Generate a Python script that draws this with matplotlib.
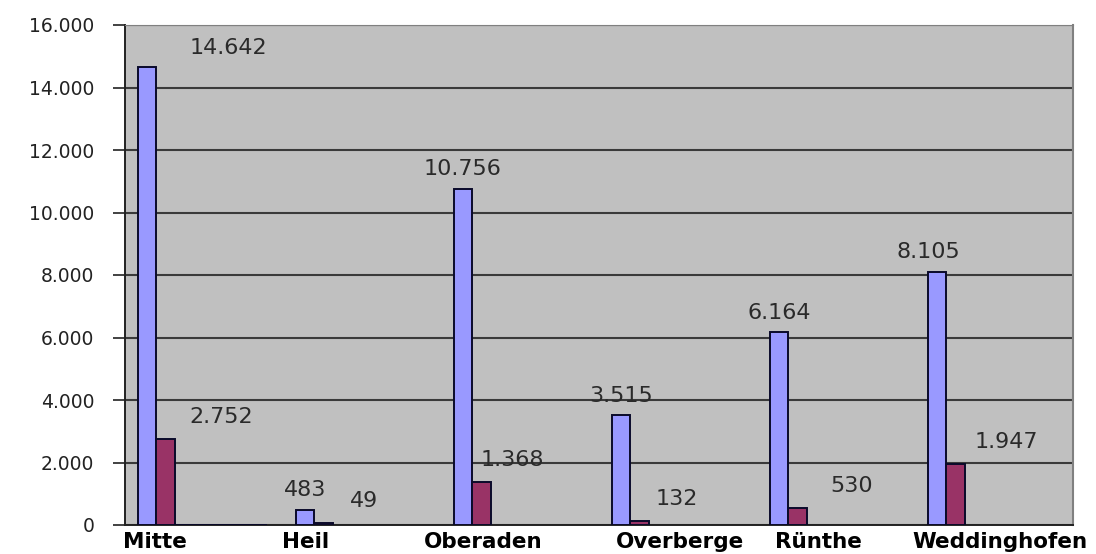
import numpy as np
import matplotlib
matplotlib.use("Agg")
import matplotlib.pyplot as plt
from matplotlib.ticker import FuncFormatter

# Daten
stadtteile = ["Mitte", "Heil", "Oberaden", "Overberge", "Rünthe", "Weddinghofen"]
reihe_1 = [14642, 483, 10756, 3515, 6164, 8105]
reihe_2 = [2752, 49, 1368, 132, 530, 1947]
weitere_mitte = [0, 0, 0, 0, 0]   # leere Reihen, nur bei Mitte als Strich sichtbar

# Layout (Beschriftungen stehen wie im Original etwas versetzt)
label_x = [0.19, 1.14, 2.27, 3.51, 4.39, 5.54]
dx_1 = [59, 0, 0, 0, 0, -6]
dx_2 = [40, 29, 22, 27, 39, 37]

fmt = lambda v: f"{v:,.0f}".replace(",", ".")

fig = plt.figure(figsize=(10.96, 5.54), dpi=100)
ax = fig.add_axes([125 / 1096, 1 - 525 / 554, 948 / 1096, 500 / 554])
ax.set_facecolor("#C0C0C0")

x = np.arange(len(stadtteile))
b = 0.117
off = 0.08
kante = dict(edgecolor="#0a0a2a", linewidth=1.4)

ax.bar(x + off, reihe_1, width=b, align="edge", color="#9999FF", zorder=3, **kante)
ax.bar(x + off + b, reihe_2, width=b, align="edge", color="#993366", zorder=3, **kante)
for k, v in enumerate(weitere_mitte):
    ax.bar(off + (k + 2) * b, v, width=b, align="edge", color="#993366", zorder=3, **kante)

for i in range(len(stadtteile)):
    ax.annotate(fmt(reihe_1[i]), (x[i] + off + b / 2, reihe_1[i]),
                xytext=(dx_1[i], 14), textcoords="offset points",
                ha="center", va="center", fontsize=16, color="#2a2a2a",
                family="DejaVu Sans", zorder=4)
    ax.annotate(fmt(reihe_2[i]), (x[i] + off + 1.5 * b, reihe_2[i]),
                xytext=(dx_2[i], 16), textcoords="offset points",
                ha="center", va="center", fontsize=16, color="#2a2a2a",
                family="DejaVu Sans", zorder=4)

ax.set_xlim(0, len(stadtteile))
ax.set_ylim(0, 16000)
ax.set_yticks(np.arange(0, 16001, 2000))
ax.yaxis.set_major_formatter(FuncFormatter(lambda v, p: fmt(v)))
ax.tick_params(axis="y", direction="out", length=9, width=1.2, color="#222222",
               labelsize=13.5, labelcolor="#222222", pad=13)
for t in ax.get_yticklabels():
    t.set_family("DejaVu Sans")
ax.set_xticks(label_x)
ax.set_xticklabels(stadtteile, fontsize=15.5, fontweight="bold", family="DejaVu Sans")
ax.tick_params(axis="x", length=0, pad=5)

ax.grid(axis="y", color="#3a3a3a", linewidth=1.5, zorder=1)
ax.spines["left"].set_color("#222222")
ax.spines["left"].set_linewidth(1.4)
ax.spines["bottom"].set_color("#222222")
ax.spines["bottom"].set_linewidth(1.4)
ax.spines["top"].set_color("#808080")
ax.spines["right"].set_color("#808080")
ax.spines["right"].set_linewidth(1.5)

fig.savefig("out.png", dpi=100)
